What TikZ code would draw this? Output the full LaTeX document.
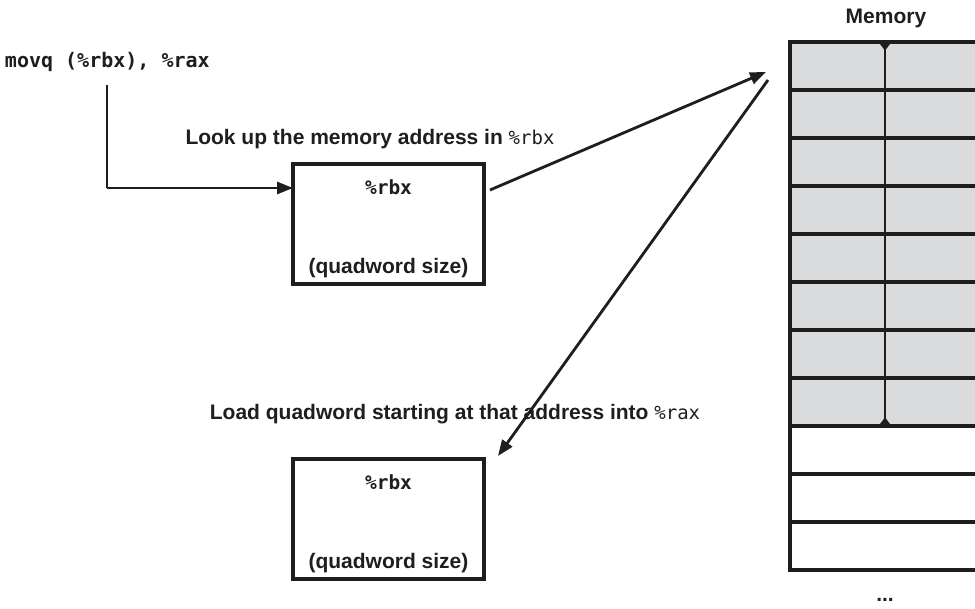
\documentclass[tikz,border=0pt]{standalone}
\usepackage{fontspec}
\setmainfont{Liberation Sans}
\setmonofont{DejaVu Sans Mono}
\usetikzlibrary{arrows.meta}
\definecolor{memgray}{RGB}{218,219,221}
\definecolor{ink}{RGB}{30,30,30}
\newcommand{\regtt}[1]{{\ttfamily\mdseries\fontsize{19}{21}\selectfont #1}}
\begin{document}
\begin{tikzpicture}[x=1pt,y=-1pt,
  every node/.style={inner sep=0pt,outer sep=0pt,text=ink},
  lbl/.style={font=\fontsize{21}{23}\selectfont\bfseries},
  code/.style={font=\fontsize{20}{22}\selectfont\ttfamily\bfseries},
  boxcode/.style={font=\fontsize{19.5}{21}\selectfont\ttfamily\bfseries},
  regbox/.style={draw=ink,line width=3.4pt,minimum width=191pt,minimum height=120pt},
  cell/.style={draw=ink,line width=3.4pt,minimum width=195pt,minimum height=48pt,anchor=north west},
  conn/.style={draw=ink,line width=2.8pt,-{Triangle[length=16pt,width=12pt]}},
]
\clip (0,0) rectangle (975,609);
\fill[white] (0,0) rectangle (975,609);

% instruction
\node[code,anchor=west] (instr) at (5,62) {movq (\%rbx), \%rax};
\coordinate (lstart) at (107,85);
\coordinate (lbend) at (107,188);

% box 1
\node[regbox] (box1) at (388.5,224) {};
\node[boxcode] (r1) at ([yshift=-23]box1.north) {\%rbx};
\node[lbl] (q1) at ([yshift=16]box1.south) {(quadword size)};
\node[lbl] (look) at (370,139) {Look up the memory address in \regtt{\%rbx}};

% box 2
\node[regbox] (box2) at (388.5,519) {};
\node[boxcode] (r2) at ([yshift=-23]box2.north) {\%rbx};
\node[lbl] (q2) at ([yshift=16]box2.south) {(quadword size)};
\node[lbl] (load) at (455,414) {Load quadword starting at that address into \regtt{\%rax}};

% memory
\node[lbl] (memlbl) at (886,18) {Memory};
\foreach \i in {0,...,10}{
  \pgfmathtruncatemacro{\yy}{42+48*\i}
  \ifnum\i<8
    \node[cell,fill=memgray] (m\i) at (790,\yy) {};
  \else
    \node[cell,fill=white] (m\i) at (790,\yy) {};
  \fi
}
\node[lbl,anchor=base] (dots) at (885,601) {...};
\draw[draw=ink,line width=2.8pt,{Triangle[reversed,length=7pt,width=10pt]}-{Triangle[reversed,length=7pt,width=10pt]}]
  ([xshift=-2.5pt,yshift=-1.7pt]m0.north) -- ([xshift=-2.5pt,yshift=1.7pt]m7.south);

% connectors
\coordinate (a1s) at (490,190);
\coordinate (a1e) at (766,72);
\coordinate (a2s) at (768,80);
\coordinate (a2e) at (498,456);
\draw[draw=ink,line width=2.8pt] (lstart) -- (lbend);
\draw[conn] (lbend) -- (box1.west |- lbend);
\draw[conn] (a1s) -- (a1e);
\draw[conn] (a2s) -- (a2e);
\end{tikzpicture}
\end{document}
